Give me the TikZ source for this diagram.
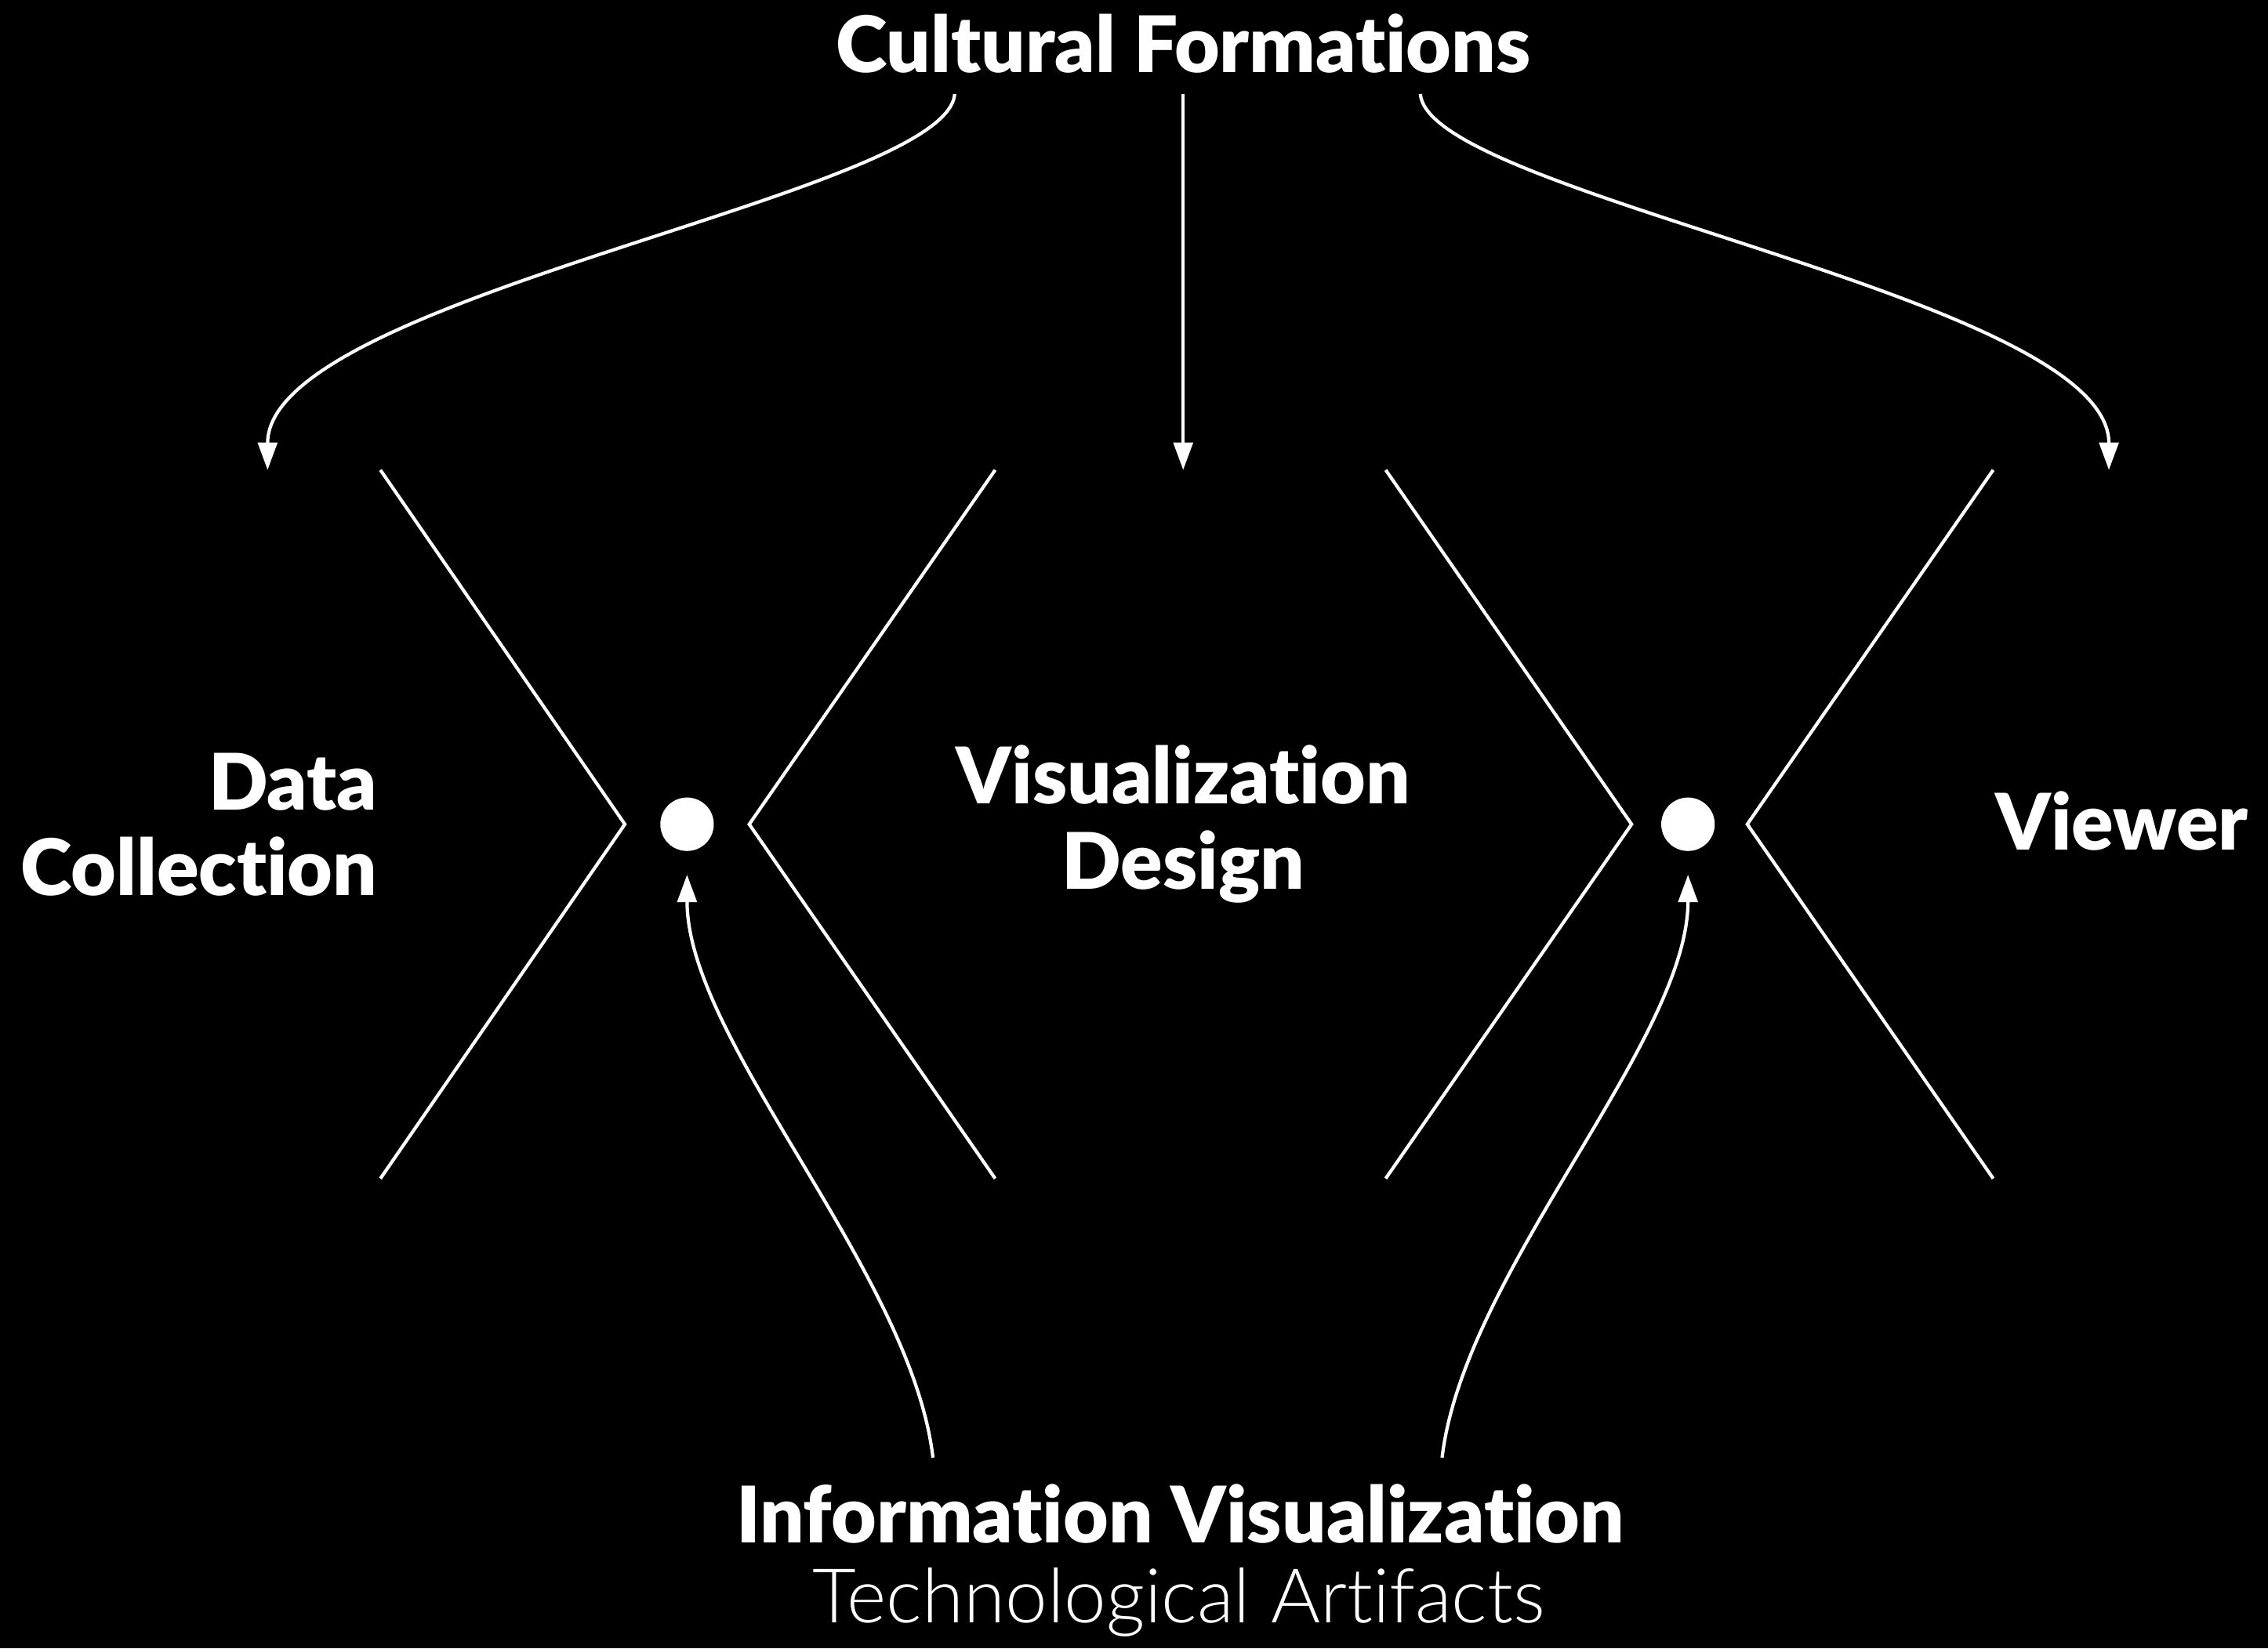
\documentclass[tikz,border=0pt]{standalone}
\usepackage{fontspec}
\setmainfont{Lato}[BoldFont={Lato Black},Ligatures={NoCommon}]
\newfontfamily\lightfont{Lato Light}[Ligatures={NoCommon}]
\usetikzlibrary{arrows.meta}

\begin{document}
\begin{tikzpicture}[x=0.01845cm,y=-0.01845cm,white,line width=1.2pt,
    lbl/.style={font=\fontsize{28.3}{31}\selectfont\bfseries,align=center,inner sep=0pt},
    tip/.style={-{Triangle[width=7pt,length=10pt]}},
    dot/.style={circle,fill,inner sep=0pt,minimum size=19.4pt}]
  \fill[black] (0,0) rectangle (1568,1140);
  \useasboundingbox (0,0) rectangle (1568,1140);
  % labels
  \node[lbl] (cult) at (818,30) {Cultural Formations};
  \node[lbl,align=right,anchor=east] (data) at (262,570) {Data\\Collection};
  \node[lbl] (design) at (818,570) {Visualization\\Design};
  \node[lbl] (viewer) at (1467,568) {Viewer};
  \node[lbl] (info) at (816,1047) {Information Visualization};
  \node[lbl,font=\fontsize{27.4}{31}\selectfont\lightfont] (tech) at (815,1108) {Technological Artifacts};
  % chevrons
  \draw (263,325)--(432,570)--(263,815);
  \draw (688,325)--(518,570)--(688,815);
  \draw (958,325)--(1128,570)--(958,815);
  \draw (1378,325)--(1208,570)--(1378,815);
  \node[dot] (d1) at (475,570) {};
  \node[dot] (d2) at (1167,570) {};
  % arrow ends
  \coordinate (cl) at (660,65);
  \coordinate (cm) at (818,65);
  \coordinate (cr) at (982,65);
  \coordinate (tl) at (185,325);
  \coordinate (tm) at (818,325);
  \coordinate (tr) at (1458,325);
  \coordinate (bl) at (645,1008);
  \coordinate (br) at (997,1008);
  \draw[tip] (cl) .. controls (655,135) and (185,205) .. (tl);
  \draw[tip] (cm) -- (tm);
  \draw[tip] (cr) .. controls (987,135) and (1458,205) .. (tr);
  \draw[tip,shorten >=8pt] (bl) .. controls (630,880) and (475,720) .. (d1.south);
  \draw[tip,shorten >=8pt] (br) .. controls (1012,880) and (1167,720) .. (d2.south);
\end{tikzpicture}
\end{document}
